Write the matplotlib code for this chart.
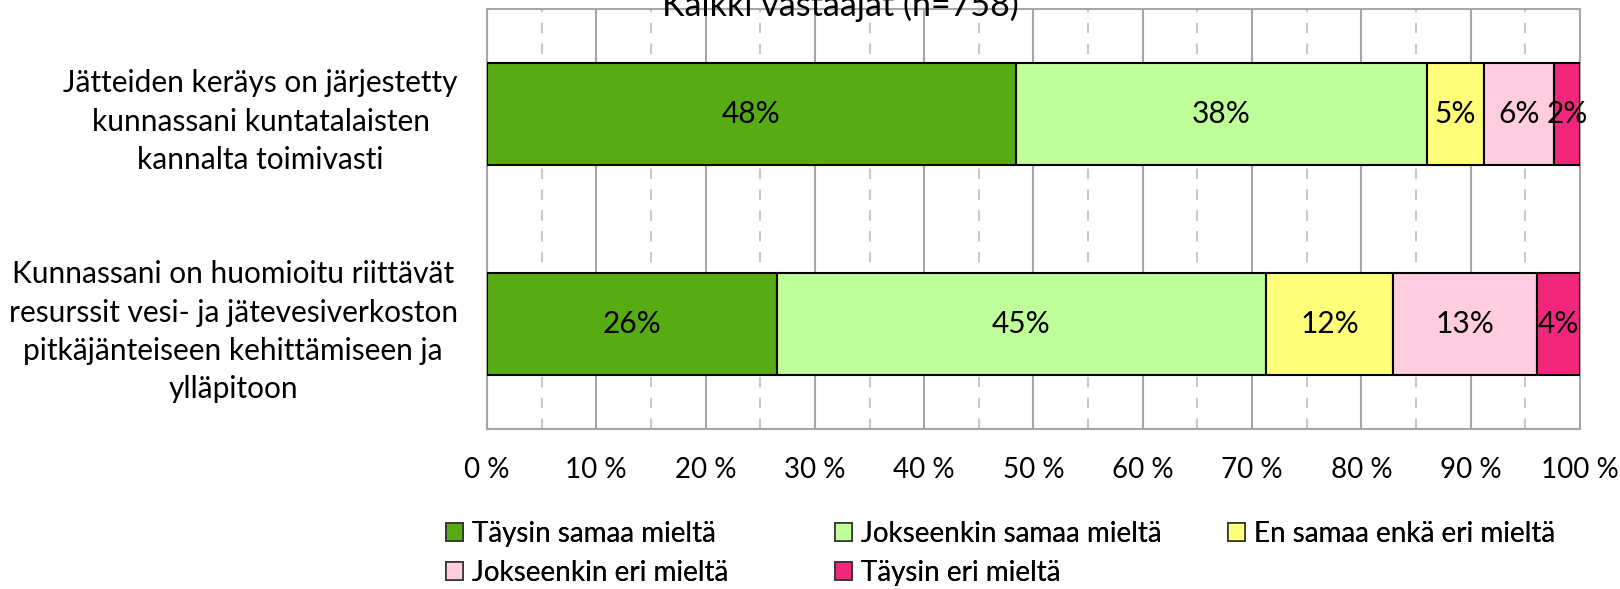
import numpy as np
import matplotlib
matplotlib.use("Agg")
import matplotlib.pyplot as plt
from matplotlib.patches import Patch

plt.rcParams['font.family'] = ['Lato', 'DejaVu Sans']

categories = ["Jätteiden keräys on järjestetty\nkunnassani kuntatalaisten\nkannalta toimivasti",
              "Kunnassani on huomioitu riittävät\nresurssit vesi- ja jätevesiverkoston\npitkäjänteiseen kehittämiseen ja\nylläpitoon"]
series = ["Täysin samaa mieltä", "Jokseenkin samaa mieltä", "En samaa enkä eri mieltä",
          "Jokseenkin eri mieltä", "Täysin eri mieltä"]
values = np.array([
    [48.4, 37.6, 5.2, 6.4, 2.4],
    [26.5, 44.8, 11.6, 13.2, 3.9],
])
labels = [["48%", "38%", "5%", "6%", "2%"],
          ["26%", "45%", "12%", "13%", "4%"]]
colors_ = ["#56AC12", "#BFFF99", "#FFFF7A", "#FFCCE0", "#F2277B"]
xticks = np.arange(0, 101, 10)
FS = 21.5

fig = plt.figure(figsize=(16.2, 5.89), dpi=100)
ax = fig.add_axes([0.3006, 0.2716, 0.6747, 0.7131])

y = np.arange(len(categories))
left = np.zeros(len(categories))
for j in range(len(series)):
    ax.barh(y, values[:, j], left=left, height=0.49, color=colors_[j],
            edgecolor="black", linewidth=1.5, zorder=3, label=series[j])
    for i in range(len(categories)):
        ax.text(left[i] + values[i, j] / 2, y[i], labels[i][j], ha="center",
                va="center", fontsize=FS, zorder=4)
    left += values[:, j]

ax.set_xlim(0, 100)
ax.set_ylim(1.5, -0.5)
ax.set_xticks(xticks)
ax.set_xticklabels(["%d %%" % t for t in xticks], fontsize=20)
ax.set_xticks(np.arange(5, 100, 10), minor=True)
ax.set_yticks(y)
ax.set_yticklabels(categories, fontsize=FS, multialignment="center", linespacing=1.45)
ax.tick_params(axis="both", which="both", length=0)
ax.tick_params(axis="x", pad=20)
ax.tick_params(axis="y", pad=21)
ax.grid(axis="x", which="major", color="#A6A6A6", linewidth=1.5, zorder=0)
ax.grid(axis="x", which="minor", color="#C8C8C8", linewidth=1.5, linestyle=(0, (5, 5)), zorder=0)
for s in ax.spines.values():
    s.set_color("#A6A6A6")
    s.set_linewidth(1.5)

fig.text(0.519, 0.972, "Kaikki vastaajat (n=758)", ha="center", va="baseline", fontsize=24.5)

# legend: three fixed-width columns like the original
handles = [Patch(facecolor=c, edgecolor="#333333", linewidth=1.2) for c in colors_]
columns = [[0, 3], [1, 4], [2]]
col_x = [446 / 1620, 835 / 1620, 1228 / 1620]
for idx, x0 in zip(columns, col_x):
    leg = fig.legend([handles[k] for k in idx], [series[k] for k in idx],
                     loc="upper left", bbox_to_anchor=(x0, 0.116), frameon=False,
                     fontsize=20, handlelength=0.62, handleheight=0.62, handletextpad=0.3,
                     labelspacing=0.48, borderpad=0, borderaxespad=0)
    fig.add_artist(leg)

fig.savefig("out.png", dpi=100)
